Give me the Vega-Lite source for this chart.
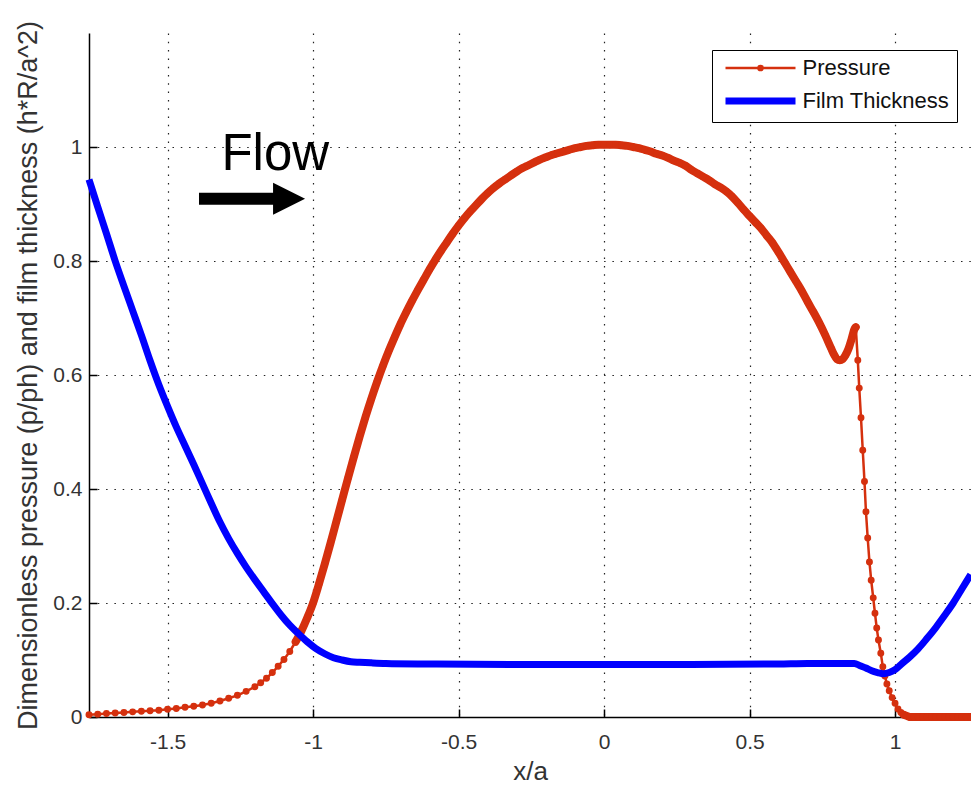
{
  "$schema": "https://vega.github.io/schema/vega-lite/v6.json",
  "width": 882,
  "height": 684,
  "autosize": {"type": "none"},
  "padding": {"left": 89, "top": 33, "right": 0, "bottom": 69},
  "background": "white",
  "config": {
    "view": {"stroke": null},
    "font": "Liberation Sans",
    "axis": {
      "domainColor": "#000", "domainWidth": 1.5,
      "tickColor": "#000", "tickWidth": 1.5, "tickSize": -8,
      "grid": true, "gridColor": "#222", "gridDash": [1.5, 6.8], "gridWidth": 1.2,
      "labelFont": "Liberation Sans", "labelFontSize": 21, "labelColor": "#333",
      "titleFont": "Liberation Sans", "titleFontSize": 26, "titleFontWeight": "normal", "titleColor": "#333",
      "labelOverlap": false, "labelFlush": false
    }
  },
  "datasets": {
    "pressure": [
      {"x": -1.77, "y": 0.004}, {"x": -1.74, "y": 0.005}, {"x": -1.71, "y": 0.006}, {"x": -1.68, "y": 0.007},
      {"x": -1.65, "y": 0.008}, {"x": -1.62, "y": 0.009}, {"x": -1.59, "y": 0.010}, {"x": -1.56, "y": 0.011},
      {"x": -1.53, "y": 0.012}, {"x": -1.50, "y": 0.0135}, {"x": -1.47, "y": 0.015}, {"x": -1.44, "y": 0.017},
      {"x": -1.41, "y": 0.019}, {"x": -1.38, "y": 0.021}, {"x": -1.35, "y": 0.024}, {"x": -1.32, "y": 0.028},
      {"x": -1.29, "y": 0.033}, {"x": -1.26, "y": 0.038}, {"x": -1.23, "y": 0.045},
      {"x": -1.20, "y": 0.053}, {"x": -1.18, "y": 0.060}, {"x": -1.16, "y": 0.068}, {"x": -1.14, "y": 0.078},
      {"x": -1.12, "y": 0.089}, {"x": -1.10, "y": 0.101}, {"x": -1.08, "y": 0.115}, {"x": -1.06, "y": 0.132},
      {"x": -1.04, "y": 0.151}, {"x": -1.02, "y": 0.174}, {"x": -1.00, "y": 0.200}, {"x": -0.98, "y": 0.233},
      {"x": -0.96, "y": 0.268}, {"x": -0.94, "y": 0.305}, {"x": -0.92, "y": 0.343}, {"x": -0.90, "y": 0.381},
      {"x": -0.88, "y": 0.419}, {"x": -0.86, "y": 0.456}, {"x": -0.84, "y": 0.492}, {"x": -0.82, "y": 0.526},
      {"x": -0.80, "y": 0.558}, {"x": -0.78, "y": 0.588}, {"x": -0.76, "y": 0.616}, {"x": -0.74, "y": 0.642},
      {"x": -0.72, "y": 0.666}, {"x": -0.70, "y": 0.689}, {"x": -0.68, "y": 0.710}, {"x": -0.66, "y": 0.730},
      {"x": -0.64, "y": 0.749}, {"x": -0.62, "y": 0.767}, {"x": -0.60, "y": 0.785}, {"x": -0.58, "y": 0.802},
      {"x": -0.56, "y": 0.818}, {"x": -0.54, "y": 0.833}, {"x": -0.52, "y": 0.848}, {"x": -0.50, "y": 0.862},
      {"x": -0.48, "y": 0.875}, {"x": -0.46, "y": 0.887}, {"x": -0.44, "y": 0.898}, {"x": -0.42, "y": 0.909},
      {"x": -0.40, "y": 0.919}, {"x": -0.38, "y": 0.928}, {"x": -0.36, "y": 0.936}, {"x": -0.34, "y": 0.943},
      {"x": -0.32, "y": 0.950}, {"x": -0.30, "y": 0.957}, {"x": -0.28, "y": 0.963}, {"x": -0.26, "y": 0.968},
      {"x": -0.24, "y": 0.973}, {"x": -0.22, "y": 0.978}, {"x": -0.20, "y": 0.982}, {"x": -0.18, "y": 0.986},
      {"x": -0.16, "y": 0.989}, {"x": -0.14, "y": 0.992}, {"x": -0.12, "y": 0.995}, {"x": -0.10, "y": 0.998},
      {"x": -0.08, "y": 1.000}, {"x": -0.06, "y": 1.002}, {"x": -0.04, "y": 1.003}, {"x": -0.02, "y": 1.004},
      {"x": 0.00, "y": 1.004}, {"x": 0.02, "y": 1.004}, {"x": 0.04, "y": 1.004}, {"x": 0.06, "y": 1.003},
      {"x": 0.08, "y": 1.002}, {"x": 0.10, "y": 1.000}, {"x": 0.12, "y": 0.998}, {"x": 0.14, "y": 0.995},
      {"x": 0.16, "y": 0.992}, {"x": 0.18, "y": 0.988}, {"x": 0.20, "y": 0.985}, {"x": 0.22, "y": 0.981},
      {"x": 0.24, "y": 0.976}, {"x": 0.26, "y": 0.972}, {"x": 0.28, "y": 0.967}, {"x": 0.30, "y": 0.960},
      {"x": 0.32, "y": 0.954}, {"x": 0.34, "y": 0.948}, {"x": 0.36, "y": 0.942}, {"x": 0.38, "y": 0.935},
      {"x": 0.40, "y": 0.929}, {"x": 0.42, "y": 0.922}, {"x": 0.44, "y": 0.913}, {"x": 0.46, "y": 0.902},
      {"x": 0.48, "y": 0.890}, {"x": 0.50, "y": 0.879}, {"x": 0.52, "y": 0.868}, {"x": 0.54, "y": 0.857},
      {"x": 0.56, "y": 0.844}, {"x": 0.58, "y": 0.831}, {"x": 0.60, "y": 0.815}, {"x": 0.62, "y": 0.798},
      {"x": 0.64, "y": 0.781}, {"x": 0.66, "y": 0.764}, {"x": 0.68, "y": 0.747}, {"x": 0.70, "y": 0.728},
      {"x": 0.72, "y": 0.710}, {"x": 0.74, "y": 0.691}, {"x": 0.76, "y": 0.670}, {"x": 0.78, "y": 0.647},
      {"x": 0.79, "y": 0.636}, {"x": 0.80, "y": 0.628}, {"x": 0.81, "y": 0.626}, {"x": 0.82, "y": 0.628},
      {"x": 0.83, "y": 0.635}, {"x": 0.84, "y": 0.646}, {"x": 0.85, "y": 0.662}, {"x": 0.86, "y": 0.680},
      {"x": 0.865, "y": 0.684}, {"x": 0.872, "y": 0.626}, {"x": 0.877, "y": 0.577}, {"x": 0.883, "y": 0.525},
      {"x": 0.889, "y": 0.468}, {"x": 0.895, "y": 0.413}, {"x": 0.900, "y": 0.360}, {"x": 0.906, "y": 0.314},
      {"x": 0.912, "y": 0.272}, {"x": 0.918, "y": 0.240}, {"x": 0.925, "y": 0.209}, {"x": 0.931, "y": 0.182},
      {"x": 0.937, "y": 0.156}, {"x": 0.943, "y": 0.135}, {"x": 0.951, "y": 0.112}, {"x": 0.958, "y": 0.088},
      {"x": 0.965, "y": 0.072}, {"x": 0.972, "y": 0.058}, {"x": 0.980, "y": 0.046}, {"x": 0.990, "y": 0.034},
      {"x": 1.000, "y": 0.024}, {"x": 1.010, "y": 0.014}, {"x": 1.020, "y": 0.008}, {"x": 1.030, "y": 0.004},
      {"x": 1.040, "y": 0.002}, {"x": 1.050, "y": 0.0}, {"x": 1.065, "y": 0.0}, {"x": 1.08, "y": 0.0},
      {"x": 1.095, "y": 0.0}, {"x": 1.11, "y": 0.0}, {"x": 1.125, "y": 0.0}, {"x": 1.14, "y": 0.0},
      {"x": 1.155, "y": 0.0}, {"x": 1.17, "y": 0.0}, {"x": 1.185, "y": 0.0}, {"x": 1.20, "y": 0.0},
      {"x": 1.215, "y": 0.0}, {"x": 1.23, "y": 0.0}, {"x": 1.245, "y": 0.0}, {"x": 1.26, "y": 0.0}
    ],
    "film": [
      {"x": -1.77, "y": 0.943}, {"x": -1.74, "y": 0.895}, {"x": -1.71, "y": 0.848}, {"x": -1.68, "y": 0.800},
      {"x": -1.65, "y": 0.756}, {"x": -1.62, "y": 0.713}, {"x": -1.59, "y": 0.670}, {"x": -1.56, "y": 0.625},
      {"x": -1.53, "y": 0.583}, {"x": -1.50, "y": 0.545}, {"x": -1.47, "y": 0.509}, {"x": -1.44, "y": 0.476},
      {"x": -1.41, "y": 0.443}, {"x": -1.38, "y": 0.409}, {"x": -1.35, "y": 0.375}, {"x": -1.32, "y": 0.342},
      {"x": -1.29, "y": 0.313}, {"x": -1.26, "y": 0.287}, {"x": -1.23, "y": 0.263}, {"x": -1.20, "y": 0.241},
      {"x": -1.17, "y": 0.220}, {"x": -1.14, "y": 0.199}, {"x": -1.11, "y": 0.179}, {"x": -1.08, "y": 0.161},
      {"x": -1.05, "y": 0.146}, {"x": -1.02, "y": 0.132}, {"x": -0.99, "y": 0.120}, {"x": -0.96, "y": 0.111},
      {"x": -0.93, "y": 0.104}, {"x": -0.90, "y": 0.100}, {"x": -0.87, "y": 0.097}, {"x": -0.84, "y": 0.096},
      {"x": -0.80, "y": 0.095}, {"x": -0.75, "y": 0.094}, {"x": -0.60, "y": 0.093}, {"x": -0.30, "y": 0.092},
      {"x": 0.00, "y": 0.092}, {"x": 0.30, "y": 0.092}, {"x": 0.60, "y": 0.093}, {"x": 0.70, "y": 0.094},
      {"x": 0.80, "y": 0.094}, {"x": 0.86, "y": 0.094}, {"x": 0.88, "y": 0.090}, {"x": 0.90, "y": 0.086},
      {"x": 0.92, "y": 0.081}, {"x": 0.94, "y": 0.078}, {"x": 0.96, "y": 0.076}, {"x": 0.98, "y": 0.078},
      {"x": 1.00, "y": 0.083}, {"x": 1.02, "y": 0.092}, {"x": 1.05, "y": 0.105}, {"x": 1.08, "y": 0.120},
      {"x": 1.11, "y": 0.138}, {"x": 1.14, "y": 0.157}, {"x": 1.17, "y": 0.178}, {"x": 1.20, "y": 0.200},
      {"x": 1.23, "y": 0.225}, {"x": 1.26, "y": 0.250}
    ],
    "flowText": [{"x": -1.13, "y": 0.96, "label": "Flow"}],
    "arrowShaft": [{"x": -1.392, "x2": -1.125, "y": 0.909}],
    "arrowHead": [{"x": -1.0825, "y": 0.909}]
  },
  "encoding": {
    "x": {
      "field": "x", "type": "quantitative",
      "scale": {"domain": [-1.77, 1.261], "nice": false, "zero": false},
      "axis": {
        "values": [-1.5, -1, -0.5, 0, 0.5, 1],
        "labelExpr": "'' + datum.value",
        "labelPadding": 22,
        "title": "x/a",
        "titlePadding": 6
      }
    },
    "y": {
      "field": "y", "type": "quantitative",
      "scale": {"domain": [0, 1.2], "nice": false, "zero": false},
      "axis": {
        "values": [0, 0.2, 0.4, 0.6, 0.8, 1],
        "labelExpr": "'' + datum.value",
        "labelPadding": 15,
        "title": "Dimensionless pressure (p/ph) and film thickness (h*R/a^2)",
        "titleFontSize": 27,
        "titlePadding": 10
      }
    }
  },
  "layer": [
    {
      "data": {"name": "pressure"},
      "transform": [{"calculate": "'Pressure'", "as": "series"}],
      "mark": {"type": "line", "strokeWidth": 2.5},
      "encoding": {
        "color": {
          "field": "series", "type": "nominal",
          "scale": {"domain": ["Pressure", "Film Thickness"], "range": ["#d5300e", "#0000ff"]},
          "legend": {
            "title": null,
            "orient": "none", "legendX": 623, "legendY": 17,
            "padding": 7,
            "strokeColor": "#000", "fillColor": "#fff",
            "labelFont": "Liberation Sans", "labelFontSize": 22, "labelColor": "#111",
            "symbolSize": 196, "symbolType": "M-5,0H5",
            "symbolOffset": 30.5, "labelOffset": 31, "rowPadding": 8,
            "encode": {
              "symbols": {
                "update": {
                  "shape": {"signal": "datum.value === 'Pressure' ? 'M-5,0H5M-0.3,0A0.3,0.3,0,1,1,0.3,0A0.3,0.3,0,1,1,-0.3,0' : 'M-5,0H5'"},
                  "strokeWidth": {"signal": "datum.value === 'Pressure' ? 2.5 : 7"},
                  "fill": {"signal": "datum.value === 'Pressure' ? '#d5300e' : 'transparent'"},
                  "stroke": {"signal": "datum.value === 'Pressure' ? '#d5300e' : '#0000ff'"},
                  "opacity": {"value": 1}
                }
              }
            }
          }
        }
      }
    },
    {
      "data": {"name": "pressure"},
      "transform": [{"filter": "datum.x >= -1.07 && datum.x <= 0.866"}, {"calculate": "'Pressure'", "as": "series"}],
      "mark": {"type": "line", "strokeWidth": 8, "strokeCap": "round", "strokeJoin": "round", "interpolate": "monotone"},
      "encoding": {"color": {"field": "series", "type": "nominal"}}
    },
    {
      "data": {"name": "pressure"},
      "transform": [{"filter": "datum.x >= 1.03"}, {"calculate": "'Pressure'", "as": "series"}],
      "mark": {"type": "line", "strokeWidth": 8, "strokeCap": "round", "strokeJoin": "round"},
      "encoding": {"color": {"field": "series", "type": "nominal"}}
    },
    {
      "data": {"name": "pressure"},
      "transform": [{"calculate": "'Pressure'", "as": "series"}],
      "mark": {"type": "point", "filled": true, "size": 48, "opacity": 1},
      "encoding": {
        "color": {"field": "series", "type": "nominal"}
      }
    },
    {
      "data": {"name": "film"},
      "transform": [{"calculate": "'Film Thickness'", "as": "series"}],
      "mark": {"type": "line", "strokeWidth": 7, "interpolate": "monotone"},
      "encoding": {
        "color": {"field": "series", "type": "nominal"}
      }
    },
    {
      "data": {"name": "flowText"},
      "mark": {"type": "text", "font": "Liberation Sans", "fontSize": 51, "baseline": "alphabetic", "align": "center", "color": "#000"},
      "encoding": {"text": {"field": "label"}}
    },
    {
      "data": {"name": "arrowShaft"},
      "mark": {"type": "rule", "strokeWidth": 12, "color": "#000"},
      "encoding": {"x2": {"field": "x2"}}
    },
    {
      "data": {"name": "arrowHead"},
      "mark": {"type": "point", "shape": "M-1,-1L1,0L-1,1Z", "size": 1024, "filled": true, "color": "#000", "opacity": 1},
      "encoding": {}
    }
  ]
}
